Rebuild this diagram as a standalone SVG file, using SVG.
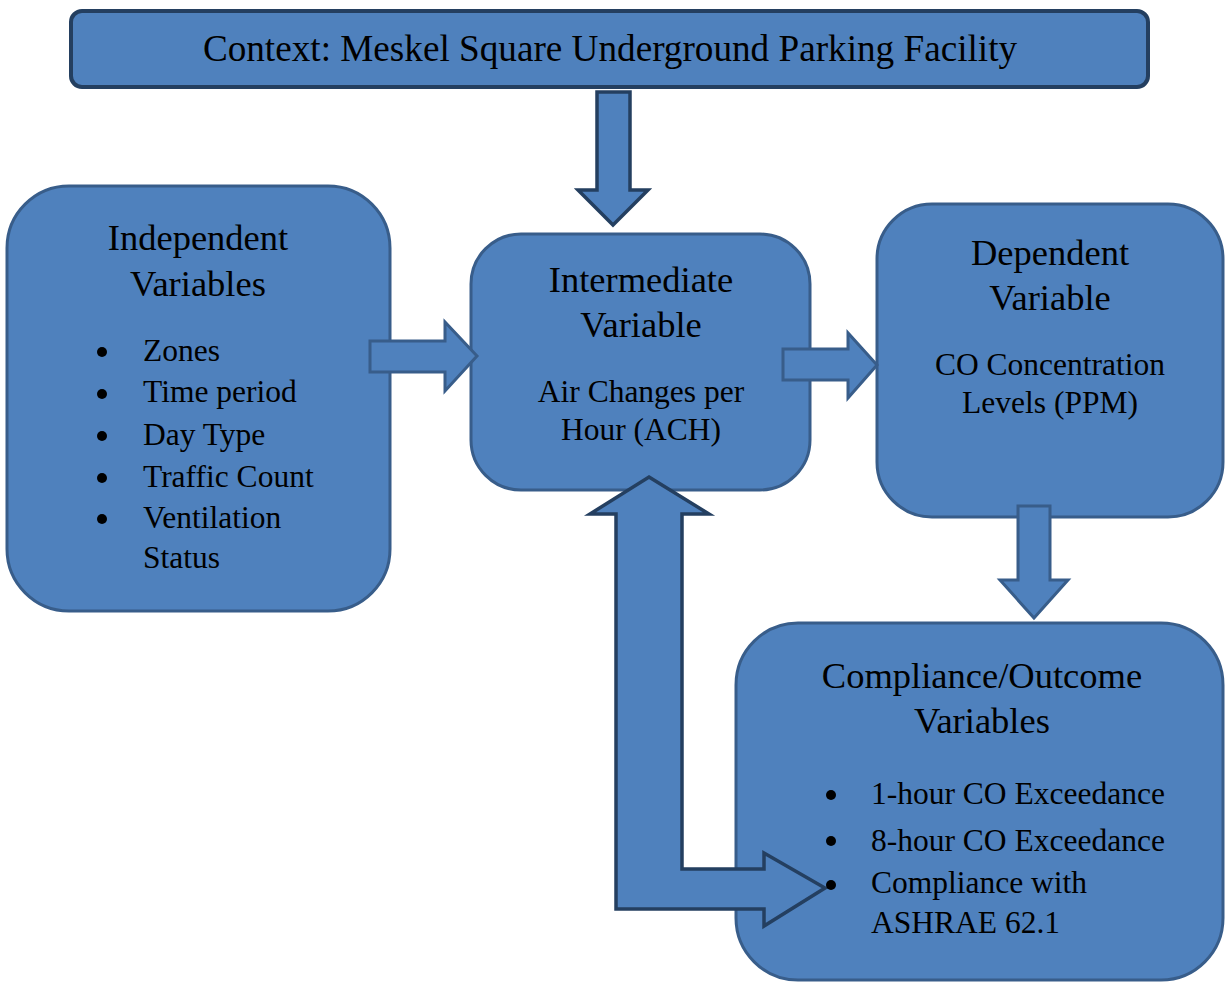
<svg xmlns="http://www.w3.org/2000/svg" width="1225" height="983" viewBox="0 0 1225 983">
  <style>
    .box { fill: #4F81BD; stroke: #385D8A; stroke-width: 3; }
    .dark { fill: #4F81BD; stroke: #243F60; stroke-width: 3.5; stroke-linejoin: miter; }
    .mid { fill: #4F81BD; stroke: #385D8A; stroke-width: 3; stroke-linejoin: miter; }
    text { font-family: "Liberation Serif", "Times New Roman", serif; fill: #000; }
    .head { font-size: 36.5px; text-anchor: middle; }
    .body { font-size: 31.5px; }
    .bodyc { font-size: 31.5px; text-anchor: middle; }
    .dot { fill: #000; }
  </style>
  <rect width="1225" height="983" fill="#FFFFFF"/>

  <!-- node shapes -->
  <g id="context">
    <rect x="71" y="11" width="1077" height="76" rx="11" ry="11" fill="#4F81BD" stroke="#243F60" stroke-width="4"/>
  </g>
  <g id="independent">
    <rect class="box" x="7" y="186" width="383" height="425" rx="62" ry="62"/>
  </g>
  <g id="intermediate">
    <rect class="box" x="471" y="234" width="339" height="256" rx="50" ry="50"/>
  </g>
  <g id="dependent">
    <rect class="box" x="877" y="204" width="346" height="313" rx="55" ry="55"/>
  </g>
  <g id="compliance">
    <rect class="box" x="736" y="623" width="487" height="357" rx="62" ry="62"/>
  </g>

  <!-- connectors (block arrows), drawn over the box edges -->
  <g id="connectors">
    <path class="dark" d="M597,92 L630,92 L630,190 L648,190 L613,225 L578,190 L597,190 Z"/>
    <path class="mid" d="M370,341 L445,341 L445,322 L477,356 L445,391 L445,372 L370,372 Z"/>
    <path class="mid" d="M783,349 L848,349 L848,333 L877,365 L848,398 L848,380 L783,380 Z"/>
    <path class="mid" d="M1018,506 L1050,506 L1050,580 L1068,580 L1034,618 L1000,580 L1018,580 Z"/>
    <path class="dark" d="M649,477 L709,514 L682,514 L682,869 L764,869 L764,853 L825,888 L764,926 L764,909 L616,909 L616,514 L590,514 Z"/>
  </g>

  <!-- labels -->
  <g id="context-label">
    <text x="610" y="61" font-size="37.2px" text-anchor="middle">Context: Meskel Square Underground Parking Facility</text>
  </g>

  <g id="independent-label">
    <text class="head" x="198" y="250">Independent</text>
    <text class="head" x="198" y="296">Variables</text>
    <circle class="dot" cx="102" cy="352" r="5"/>
    <circle class="dot" cx="102" cy="394" r="5"/>
    <circle class="dot" cx="102" cy="436" r="5"/>
    <circle class="dot" cx="102" cy="478" r="5"/>
    <circle class="dot" cx="102" cy="519" r="5"/>
    <text class="body" x="143" y="361">Zones</text>
    <text class="body" x="143" y="402">Time period</text>
    <text class="body" x="143" y="445">Day Type</text>
    <text class="body" x="143" y="487">Traffic Count</text>
    <text class="body" x="143" y="528">Ventilation</text>
    <text class="body" x="143" y="568">Status</text>
  </g>

  <g id="intermediate-label">
    <text class="head" x="641" y="292">Intermediate</text>
    <text class="head" x="641" y="337">Variable</text>
    <text class="bodyc" x="641" y="402">Air Changes per</text>
    <text class="bodyc" x="641" y="440">Hour (ACH)</text>
  </g>

  <g id="dependent-label">
    <text class="head" x="1050" y="265">Dependent</text>
    <text class="head" x="1050" y="310">Variable</text>
    <text class="bodyc" x="1050" y="375">CO Concentration</text>
    <text class="bodyc" x="1050" y="413">Levels (PPM)</text>
  </g>

  <g id="compliance-label">
    <text class="head" x="982" y="688">Compliance/Outcome</text>
    <text class="head" x="982" y="733">Variables</text>
    <circle class="dot" cx="831" cy="795" r="5"/>
    <circle class="dot" cx="831" cy="841" r="5"/>
    <circle class="dot" cx="831" cy="885" r="5"/>
    <text class="body" x="871" y="804">1-hour CO Exceedance</text>
    <text class="body" x="871" y="851">8-hour CO Exceedance</text>
    <text class="body" x="871" y="893">Compliance with</text>
    <text class="body" x="871" y="933">ASHRAE 62.1</text>
  </g>
</svg>
